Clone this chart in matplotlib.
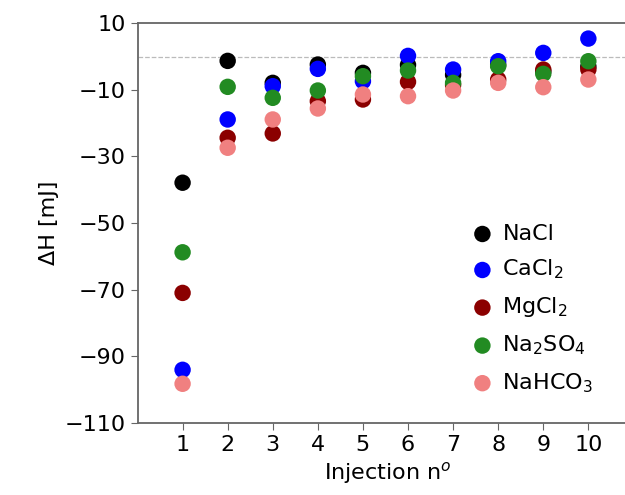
import numpy as np
import matplotlib
matplotlib.use("Agg")
import matplotlib.pyplot as plt

# ---------------------------
# Data
# ---------------------------
injections = [1, 2, 3, 4, 5, 6, 7, 8, 9, 10]

nacl = [-37.9, -1.3, -7.9, -2.4, -4.9, -2.5, -5.5, -2.5, -4.5, -3.0]
cacl2 = [-94.1, -18.9, -8.9, -3.7, -7.4, 0.2, -3.9, -1.4, 1.1, 5.4]
mgcl2 = [-71.0, -24.4, -23.1, -13.4, -12.9, -7.6, -8.5, -6.9, -3.9, -3.9]
na2so4 = [-58.8, -9.1, -12.4, -10.2, -5.9, -4.2, -7.9, -2.9, -5.2, -1.4]
nahco3 = [-98.3, -27.4, -18.9, -15.6, -11.4, -11.9, -10.2, -7.9, -9.2, -6.9]

series = [
    ("NaCl", nacl, "black"),
    ("CaCl$_2$", cacl2, "blue"),
    ("MgCl$_2$", mgcl2, "darkred"),
    ("Na$_2$SO$_4$", na2so4, "forestgreen"),
    ("NaHCO$_3$", nahco3, "lightcoral"),
]

y_ticks = [10, -10, -30, -50, -70, -90, -110]

# ---------------------------
# Plot
# ---------------------------
fig = plt.figure(figsize=(6.25, 4.95), dpi=100)
# axes run past the right edge of the picture (the reference is cropped there)
ax = fig.add_axes([0.22, 0.146, 0.80, 0.807])

ax.axhline(0, color="#bbbbbb", linestyle="--", linewidth=0.9, zorder=1)

for label, vals, col in series:
    ax.scatter(injections, vals, s=140, color=col, label=label,
               edgecolors="none", zorder=3)

ax.set_xlim(0, 11.09)
ax.set_ylim(-110, 10)
ax.set_xticks(injections)
ax.set_yticks(y_ticks)

ax.set_xlabel("Injection n$^o$", fontsize=16)
ax.set_ylabel("ΔH [mJ]", fontsize=16)
ax.tick_params(labelsize=16, color="#666666", length=5)

for side in ["left", "bottom", "top", "right"]:
    ax.spines[side].set_color("#666666")
    ax.spines[side].set_linewidth(1.3)

ax.legend(loc="lower right", bbox_to_anchor=(0.938, 0.037), frameon=False,
          fontsize=16, handletextpad=0.3, labelspacing=0.63,
          handlelength=1.2, borderaxespad=0.2)

fig.savefig("out.png", dpi=100)
